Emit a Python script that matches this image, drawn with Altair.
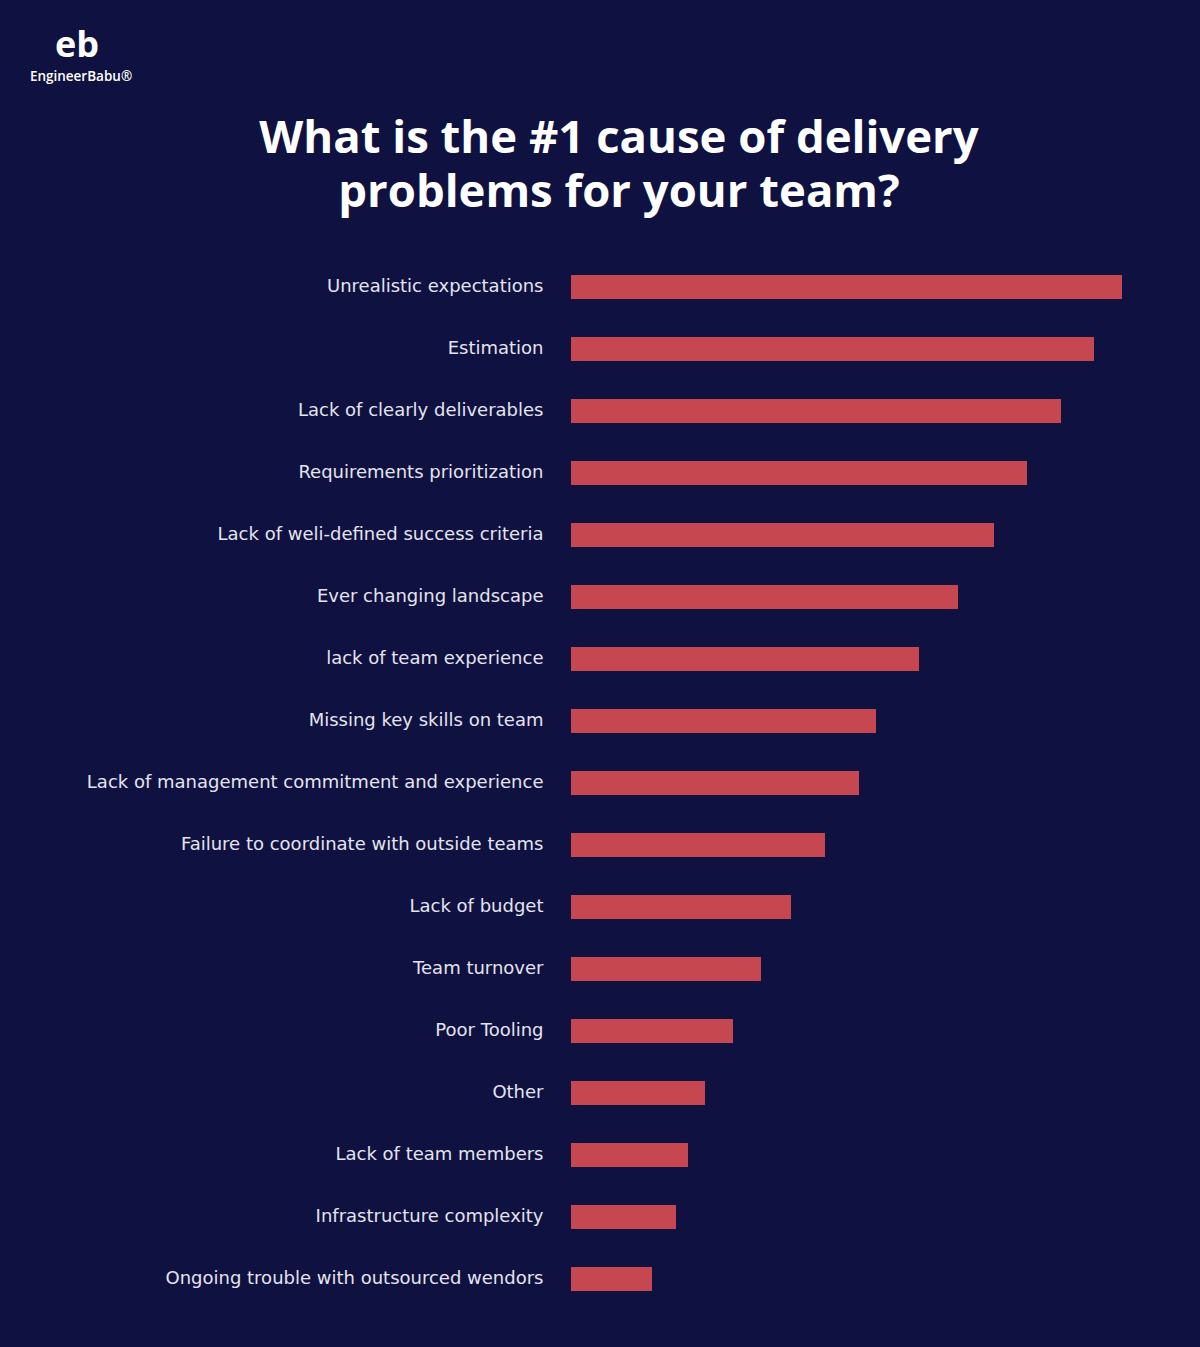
import altair as alt
import pandas as pd

# ---------------- data ----------------
categories = [
    "Unrealistic expectations",
    "Estimation",
    "Lack of clearly deliverables",
    "Requirements prioritization",
    "Lack of weli-defined success criteria",
    "Ever changing landscape",
    "lack of team experience",
    "Missing key skills on team",
    "Lack of management commitment and experience",
    "Failure to coordinate with outside teams",
    "Lack of budget",
    "Team turnover",
    "Poor Tooling",
    "Other",
    "Lack of team members",
    "Infrastructure complexity",
    "Ongoing trouble with outsourced wendors",
]
values = [55.1, 52.3, 49.0, 45.6, 42.3, 38.7, 34.8, 30.5, 28.8, 25.4,
          22.0, 19.0, 16.2, 13.4, 11.7, 10.5, 8.1]

title_line1 = "What is the #1 cause of delivery"
title_line2 = "problems for your team?"
logo_mark = "eb"
logo_name = "EngineerBabu®"

BG = "#0F1140"
BAR = "#C64750"
LABEL = "#E4E4EE"

df = pd.DataFrame({"cause": categories, "value": values})

# optional: paint page background to match
try:
    import altair.utils.html as _h
    _orig = _h.TEMPLATES["standard"]

    class _T:
        def render(self, *a, **k):
            return _orig.render(*a, **k).replace(
                "<head>", "<head><style>body{background:#0F1140;}</style>", 1)

    _h.TEMPLATES["standard"] = _T()
except Exception:
    pass

bars = alt.Chart(df).mark_bar(color=BAR, size=24).encode(
    x=alt.X("value:Q", scale=alt.Scale(domain=[0, 60]), axis=None),
    y=alt.Y(
        "cause:N",
        sort=categories,
        scale=alt.Scale(paddingInner=0.613, paddingOuter=0.3065),
        axis=alt.Axis(
            title=None, domain=False, ticks=False, grid=False,
            labelPadding=28, labelFontSize=18, labelColor=LABEL,
            labelFont="DejaVu Sans", labelLimit=700,
        ),
    ),
)


def text_layer(txt, x, y, size, weight, font="Open Sans"):
    return alt.Chart(pd.DataFrame({"t": [txt]})).mark_text(
        font=font, fontWeight=weight, fontSize=size, color="white",
        align="center", baseline="alphabetic",
    ).encode(text="t:N", x=alt.value(x), y=alt.value(y))


title1 = text_layer(title_line1, 48, -103, 45.5, "bold")
title2 = text_layer(title_line2, 48, -49, 45.5, "bold")
logo1 = text_layer(logo_mark, -494, -199, 36, "bold")
logo2 = text_layer(logo_name, -490, -175, 13.5, 600)

chart = alt.layer(bars, title1, title2, logo1, logo2).properties(
    width=600, height=1054,
    autosize=alt.AutoSizeParams(type="none"),
    padding={"left": 563, "top": 248, "right": 21, "bottom": 29},
    background=BG,
).configure_view(stroke=None)

chart.save("out.html", embed_options={"renderer": "svg", "actions": False})
